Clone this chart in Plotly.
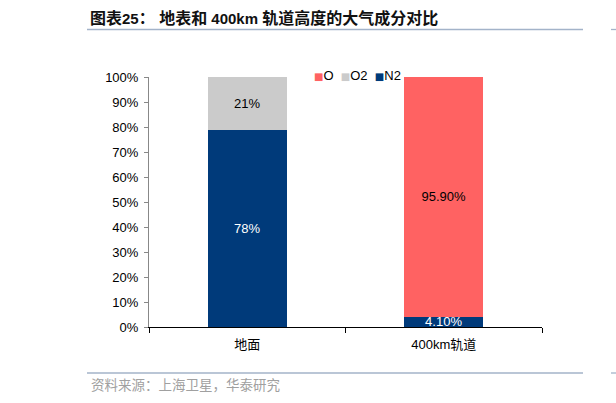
import plotly.graph_objects as go

# ---------------- data ----------------
categories = ["地面", "400km轨道"]
n2_values = [78, 4.1]
o2_values = [21, 0]
o_values = [0, 95.9]
n2_labels = ["78%", "4.10%"]
o2_labels = ["21%", ""]
o_labels = ["", "95.90%"]
y_tick_vals = [0, 10, 20, 30, 40, 50, 60, 70, 80, 90, 100]
y_tick_text = [f"{v}%" for v in y_tick_vals]
series_names = ["O", "O2", "N2"]
series_colors = {"N2": "#003A7A", "O2": "#CBCBCB", "O": "#FF6262"}

# ---------------- geometry ----------------
W, H = 616, 403
L, R, T, B = 149, 542, 77, 327


def px(x):
    return (x - L) / (R - L)


def py(y):
    return (B - y) / (B - T)


FONT = "Liberation Sans, Arial, Noto Sans CJK SC, sans-serif"

fig = go.Figure()
for name, vals, labels, tcolor in (
    ("N2", n2_values, n2_labels, "white"),
    ("O2", o2_values, o2_labels, "black"),
    ("O", o_values, o_labels, "black"),
):
    fig.add_trace(go.Bar(
        name=name, x=categories, y=vals, text=labels,
        marker=dict(color=series_colors[name], line=dict(width=0)),
        textposition="inside", insidetextanchor="middle",
        textfont=dict(color=tcolor, size=13, family=FONT),
        showlegend=False,
    ))

fig.update_layout(
    width=W, height=H,
    margin=dict(l=L, r=W - R, t=T, b=H - B, pad=0, autoexpand=False),
    barmode="stack", barnorm="percent", bargap=0.6,
    paper_bgcolor="white", plot_bgcolor="white",
    font=dict(family=FONT, size=13, color="black"),
    uniformtext=dict(minsize=13, mode="show"),
    xaxis=dict(
        showline=True, linecolor="black", linewidth=1,
        ticks="outside", tickson="boundaries", ticklen=5, tickcolor="black",
        tickfont=dict(size=13, family="Liberation Sans, Noto Sans CJK SC"),
        ticklabelstandoff=5,
        showgrid=False, zeroline=False,
    ),
    yaxis=dict(
        range=[0, 100], tickmode="array", tickvals=y_tick_vals, ticktext=y_tick_text,
        showline=True, linecolor="#888888", linewidth=1,
        ticks="outside", ticklen=4, tickcolor="#888888",
        ticklabelstandoff=3,
        tickfont=dict(size=13, family=FONT),
        showgrid=False, zeroline=False,
    ),
)

# compact legend (as in the reference)
legend_text = "&nbsp; ".join(
    f"<span style='color:{series_colors[n]};font-size:10px;font-family:DejaVu Sans'>■</span>{n}"
    for n in series_names
)
fig.add_annotation(
    x=px(312), y=py(75), xref="paper", yref="paper",
    xanchor="left", yanchor="middle", showarrow=False,
    text=legend_text, font=dict(size=13, family=FONT, color="black"),
)

# title, source and separators
cjk = "font-size:16px"
title_text = (
    f"<b><span style='{cjk}'>图表</span>25<span style='{cjk}'>： 地表和</span> 400km "
    f"<span style='{cjk}'>轨道高度的大气成分对比</span></b>"
)
fig.add_annotation(
    x=px(88), y=py(18), xref="paper", yref="paper",
    xanchor="left", yanchor="middle", showarrow=False,
    text=title_text,
    font=dict(size=15, family=FONT, color="#111111"),
)
fig.add_annotation(
    x=px(89), y=py(384), xref="paper", yref="paper",
    xanchor="left", yanchor="middle", showarrow=False,
    text="资料来源：上海卫星，华泰研究",
    font=dict(size=13.5, family="Noto Sans CJK SC", color="#A0A0A0"),
)
for ly in (29.5, 373):
    fig.add_shape(type="line", xref="paper", yref="paper",
                  x0=px(87), x1=px(583), y0=py(ly), y1=py(ly),
                  line=dict(color="#A3B3C9", width=1.3))
    fig.add_shape(type="line", xref="paper", yref="paper",
                  x0=px(611), x1=px(620), y0=py(ly), y1=py(ly),
                  line=dict(color="#A3B3C9", width=1.3))

fig.write_html(
    "out.html",
    config={"displayModeBar": False},
    post_script="document.body.style.margin='0';document.body.style.padding='0';",
)
